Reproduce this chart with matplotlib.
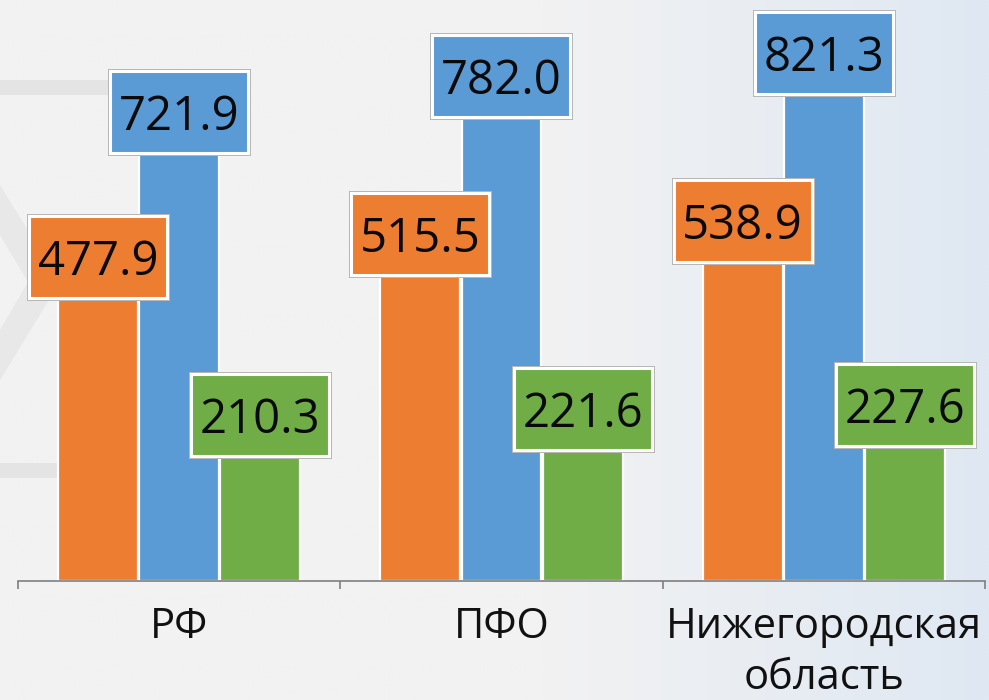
import numpy as np
import matplotlib.pyplot as plt
from matplotlib.patches import Rectangle, Polygon

plt.rcParams['font.family'] = ['Open Sans', 'DejaVu Sans']

categories = ['РФ', 'ПФО', 'Нижегородская\nобласть']
orange_vals = [477.9, 515.5, 538.9]
blue_vals = [721.9, 782.0, 821.3]
green_vals = [210.3, 221.6, 227.6]
series = [orange_vals, blue_vals, green_vals]
colors = ['#ED7D31', '#5B9BD5', '#70AD47']

W, H = 989, 700
fig = plt.figure(figsize=(W / 100, H / 100), dpi=100)

# background: light gray with a blue tint on the right and faint decorations
bg = fig.add_axes([0, 0, 1, 1], zorder=-1)
xs = np.linspace(0, 1, 400)
t = np.clip((xs - 0.55) / 0.45, 0, 1)
c0 = np.array([0xf2, 0xf2, 0xf2]) / 255
c1 = np.array([0xdf, 0xe8, 0xf3]) / 255
row = c0[None, :] * (1 - t[:, None]) + c1[None, :] * t[:, None]
bg.imshow(np.tile(row[None, :, :], (10, 1, 1)), extent=[0, W, 0, H], aspect='auto')
bg.add_patch(Rectangle((0, H - 95), 115, 15, color='#e4e4e4', lw=0))
bg.add_patch(Rectangle((0, H - 478), 60, 15, color='#e4e4e4', lw=0))
bg.add_patch(Polygon([(0, H - 185), (60, H - 282), (0, H - 380), (0, H - 330),
                      (28, H - 282), (0, H - 235)], closed=True, color='#e8e8e8', lw=0))
bg.set_xlim(0, W)
bg.set_ylim(0, H)
bg.axis('off')

base_px = 581
ymax = 980
ax = fig.add_axes([18 / W, (H - base_px) / H, (985 - 18) / W, base_px / H])
ax.patch.set_alpha(0)
ax.set_xlim(-0.5, 2.5)
ax.set_ylim(0, ymax)
px = ymax / base_px  # data units per pixel (y)

x = np.arange(len(categories))
bw = 0.248
offsets = [-0.252, 0, 0.252]
box_w = 138 / ((985 - 18) / 3)
box_h = 82 * px

for vals, off, col in zip(series, offsets, colors):
    ax.bar(x + off, vals, width=bw, color=col, edgecolor='white', linewidth=1.6, zorder=2)
    for xi, v in zip(x + off, vals):
        ax.add_patch(Rectangle((xi - box_w / 2, v), box_w, box_h, facecolor=col,
                               edgecolor='#b5b5b5', linewidth=3.6, zorder=3))
        ax.add_patch(Rectangle((xi - box_w / 2, v), box_w, box_h, facecolor=col,
                               edgecolor='white', linewidth=2.2, zorder=4))
        ax.text(xi, v + 23 * px, f'{v:.1f}', ha='center', va='baseline',
                fontsize=34, color='#0a0a0a', zorder=5)

for s in ['top', 'right', 'left']:
    ax.spines[s].set_visible(False)
ax.spines['bottom'].set_color('#7f7f7f')
ax.spines['bottom'].set_linewidth(1.2)
ax.set_yticks([])
ax.set_xticks(x)
ax.set_xticklabels(categories, fontsize=30, color='#111111', linespacing=1.28)
ax.tick_params(axis='x', which='major', length=0, pad=18)
ax.set_xticks([-0.5, 0.5, 1.5, 2.5], minor=True)
ax.tick_params(axis='x', which='minor', length=6, width=1.2, color='#7f7f7f')

plt.savefig('out.png', dpi=100)
